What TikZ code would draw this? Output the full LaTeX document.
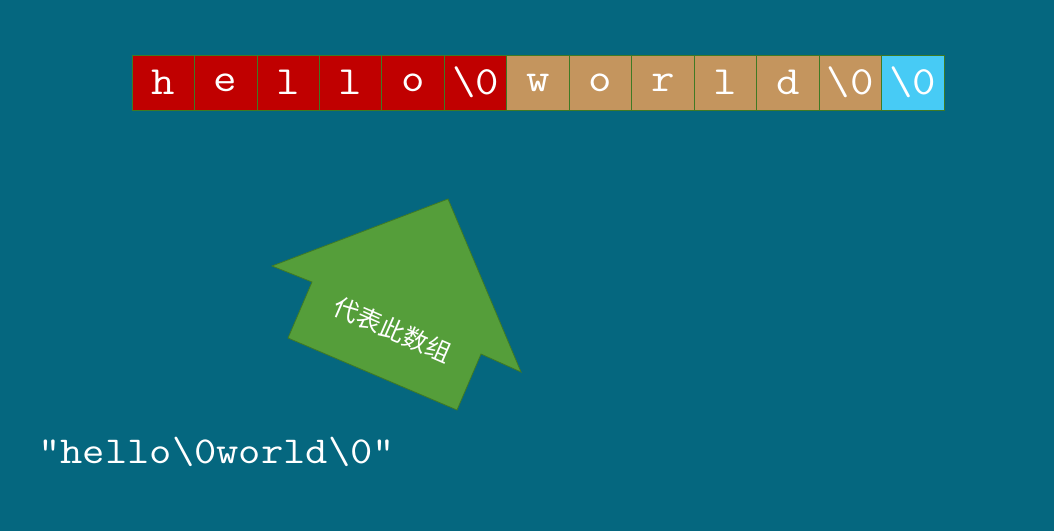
\documentclass[tikz,border=0pt]{standalone}
\usepackage{fontspec}
\newfontfamily\codefont[FakeStretch=1.14]{Latin Modern Mono}
\newfontfamily\cjk{Noto Sans CJK SC}
\usetikzlibrary{positioning}

\definecolor{bgteal}{HTML}{05677F}
\definecolor{cellred}{HTML}{C00000}
\definecolor{celltan}{HTML}{C4955E}
\definecolor{cellblue}{HTML}{47CBF5}
\definecolor{arrowgreen}{HTML}{559E3A}
\definecolor{edgegreen}{HTML}{3F7A24}

\begin{document}
\begin{tikzpicture}[x=1pt,y=-1pt]
    \tikzstyle{cell}=[draw=edgegreen,line width=0.8pt,minimum width=62.46pt,minimum height=55pt,inner sep=0pt,text=white,font=\codefont\fontsize{40}{40}\selectfont]
    \tikzstyle{first}=[cell, fill=cellred];
    \tikzstyle{second}=[cell, fill=celltan];
    \tikzstyle{rest}=[cell, fill=cellblue];
    \def\cellsep{62.46}

    % Background and picture size
    \fill[bgteal] (0,0) rectangle (1054,531);
    \useasboundingbox (0,0) rectangle (1054,531);

    % Draw the first word
    \foreach \name / \ch in {1/h,2/e,3/l,4/l,5/o,6/\textbackslash 0}
        \node[first] (C-\name) at (132+\cellsep*\name-\cellsep/2,82.5) {\ch};

    % Draw the second word
    \foreach \name / \ch in {7/w,8/o,9/r,10/l,11/d,12/\textbackslash 0}
        \node[second] (C-\name) at (132+\cellsep*\name-\cellsep/2,82.5) {\ch};

    % Draw the last terminator
    \node[rest] (C-13) at (132+\cellsep*13-\cellsep/2,82.5) {\textbackslash 0};

    % The arrow
    \filldraw[fill=arrowgreen,draw=edgegreen,line width=0.8pt]
        (448,199) -- (521,372) -- (481,354) -- (457,410) -- (288,338)
        -- (312,282) -- (272,266) -- cycle;
    \node[text=white,rotate=-23.5,font=\cjk\fontsize{25}{25}\selectfont] (label) at (393,330) {代表此数组};

    % The string literal
    \node[anchor=west,text=white,inner sep=0pt,font=\codefont\fontsize{38}{38}\selectfont] (str) at (38,452) {"hello\textbackslash 0world\textbackslash 0"};

\end{tikzpicture}
\end{document}
